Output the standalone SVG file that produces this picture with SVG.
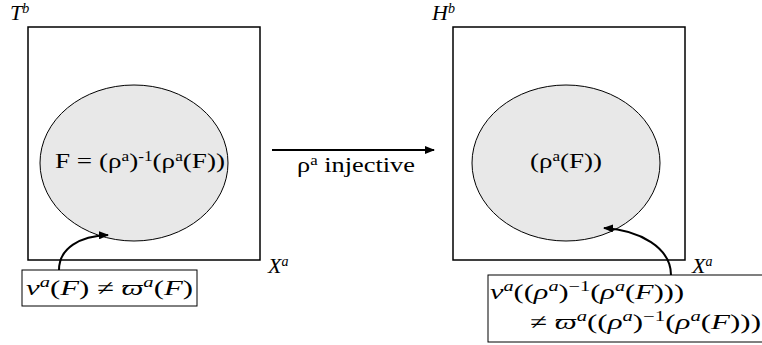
<svg xmlns="http://www.w3.org/2000/svg" width="762" height="345" viewBox="0 0 762 345">
<defs>
<marker id="ah" markerWidth="10" markerHeight="8" refX="9" refY="4" orient="auto" markerUnits="userSpaceOnUse">
<path d="M0,0 L10,4 L0,8 Z" fill="#000"/>
</marker>
<style>
text{font-family:"Liberation Serif","DejaVu Serif",serif}
.box{fill:#fff;stroke:#000;stroke-width:1.5}
.ell{fill:#e8e8e8;stroke:#000;stroke-width:1}
.lbl{fill:#fff;stroke:#000;stroke-width:1}
.t{font-size:22px;fill:#000}
.i{font-style:italic}
.m{font-size:21px;fill:#000}
.sup{font-size:14px}
.conn{fill:none;stroke:#000;stroke-width:2}
</style>
</defs>
<rect width="762" height="345" fill="#fff"/>
<g id="left">
<rect class="box" x="28" y="27" width="232" height="233"/>
<ellipse class="ell" cx="134" cy="163" rx="94" ry="78"/>
<text class="t" x="55" y="168" textLength="170" lengthAdjust="spacingAndGlyphs">F = (ρ<tspan class="sup" dy="-7">a</tspan><tspan dy="7">)</tspan><tspan class="sup" dy="-7">-1</tspan><tspan dy="7">(ρ</tspan><tspan class="sup" dy="-7">a</tspan><tspan dy="7">(F))</tspan></text>
<text class="t i" x="10" y="20">T<tspan class="sup" dy="-7">b</tspan></text>
<text class="t i" x="268" y="273">X<tspan class="sup" dy="-7">a</tspan></text>
</g>
<g id="right">
<rect class="box" x="453" y="27" width="232" height="233"/>
<ellipse class="ell" cx="566" cy="163" rx="94" ry="78"/>
<text class="t" x="530" y="168" textLength="72" lengthAdjust="spacingAndGlyphs">(ρ<tspan class="sup" dy="-7">a</tspan><tspan dy="7">(F))</tspan></text>
<text class="t i" x="432" y="20">H<tspan class="sup" dy="-7">b</tspan></text>
<text class="t i" x="692" y="273">X<tspan class="sup" dy="-7">a</tspan></text>
</g>
<g id="label-left">
<rect class="lbl" x="22" y="270" width="175" height="36"/>
<text class="m" x="26" y="295" textLength="167" lengthAdjust="spacingAndGlyphs"><tspan class="i">ν</tspan><tspan class="i sup" dy="-8">a</tspan><tspan dy="8">(</tspan><tspan class="i">F</tspan>) ≠ <tspan class="i">ϖ</tspan><tspan class="i sup" dy="-8">a</tspan><tspan dy="8">(</tspan><tspan class="i">F</tspan>)</text>
</g>
<g id="label-right">
<rect class="lbl" x="488" y="275" width="280" height="67"/>
<text class="m" x="490" y="299" textLength="194" lengthAdjust="spacingAndGlyphs"><tspan class="i">ν</tspan><tspan class="i sup" dy="-8">a</tspan><tspan dy="8">((</tspan><tspan class="i">ρ</tspan><tspan class="i sup" dy="-8">a</tspan><tspan dy="8">)</tspan><tspan class="sup" dy="-8">−1</tspan><tspan dy="8">(</tspan><tspan class="i">ρ</tspan><tspan class="i sup" dy="-8">a</tspan><tspan dy="8">(</tspan><tspan class="i">F</tspan>)))</text>
<text class="m" x="530" y="329" textLength="231" lengthAdjust="spacingAndGlyphs">≠ <tspan class="i">ϖ</tspan><tspan class="i sup" dy="-8">a</tspan><tspan dy="8">((</tspan><tspan class="i">ρ</tspan><tspan class="i sup" dy="-8">a</tspan><tspan dy="8">)</tspan><tspan class="sup" dy="-8">−1</tspan><tspan dy="8">(</tspan><tspan class="i">ρ</tspan><tspan class="i sup" dy="-8">a</tspan><tspan dy="8">(</tspan><tspan class="i">F</tspan>)))</text>
</g>
<g id="connectors">
<line class="conn" x1="272" y1="150" x2="434" y2="150" marker-end="url(#ah)"/>
<path class="conn" d="M59,270 C59,248 80,236 108,235" marker-end="url(#ah)"/>
<path class="conn" d="M671,275 C671,248 640,230 604,228" marker-end="url(#ah)"/>
<text class="t" x="297" y="172" textLength="118" lengthAdjust="spacingAndGlyphs">ρ<tspan class="sup" dy="-7">a</tspan><tspan dy="7"> injective</tspan></text>
</g>
</svg>
